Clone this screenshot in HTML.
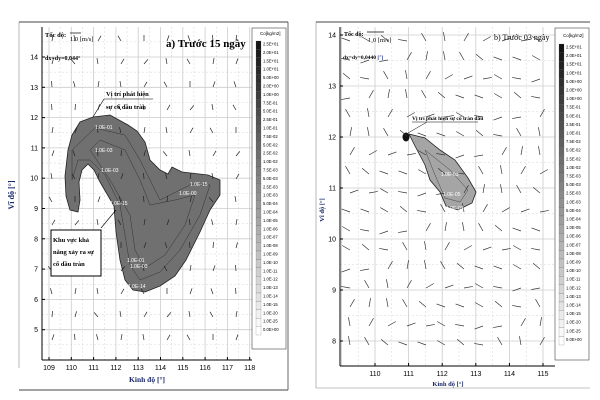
<!DOCTYPE html>
<html><head><meta charset="utf-8"><style>
html,body{margin:0;padding:0;background:#fff;width:600px;height:400px;overflow:hidden}
svg{display:block;font-family:"Liberation Serif",serif}
</style></head><body>
<svg id="s" width="600" height="400" viewBox="0 0 600 400">
<g>
<line x1="19" y1="22" x2="288" y2="22" stroke="#444" stroke-width="1"/>
<line x1="19" y1="22" x2="19" y2="368" stroke="#888" stroke-width="0.6"/>
<line x1="19" y1="390" x2="288" y2="390" stroke="#444" stroke-width="1"/>
<line x1="288" y1="22" x2="288" y2="390" stroke="#444" stroke-width="0.8"/>
<g id="gridA"></g>
<path d="M93,117 L110,115 L128,125 L137,131 L145,142 L150,160 L160,170 L168,174 L172,167 L182,172 L208,175 L220,180 L220,195 L210,210 L200,232 L186,260 L175,276 L160,286 L145,292 L133,290 L125,280 L120,260 L116,232 L114,206 L100,182 L94,170 L88,164 L82,170 L79,182 L80,200 L78,212 L70,210 L66,196 L65,176 L68,150 L72,135 L80,122 Z" fill="#707070" stroke="#222" stroke-width="0.8"/>
<path d="M95,128 L125,135 L140,160 L150,180 L160,200 L190,185 L210,185 L200,215 L180,250 L160,272 L140,280 L130,265 L125,235 L120,205 L105,175 L90,160 L78,160 L72,180 L72,150 Z" fill="none" stroke="#333" stroke-width="0.5"/>
<path d="M100,140 L125,150 L140,180 L150,205 L175,200 L195,195 L185,225 L165,255 L145,268 L135,250 L130,215 L110,180 L90,150 Z" fill="none" stroke="#333" stroke-width="0.5"/>
<g id="windA"></g>
<g font-size="5" font-family="Liberation Sans,sans-serif" fill="#fff">
<text x="95" y="129">1.0E-01</text><text x="95" y="152">1.0E-03</text><text x="101" y="172">1.0E-03</text>
<text x="110" y="205">1.0E-15</text><text x="190" y="186">1.0E-15</text><text x="179" y="195">1.0E-00</text>
<text x="127" y="262">1.0E-01</text><text x="130" y="268">1.0E-03</text><text x="128" y="288">1.0E-14</text>
</g>
<text x="45" y="37" font-size="6.5" font-weight="bold">Tốc độ:</text>
<line x1="70" y1="33" x2="81" y2="33" stroke="#000" stroke-width="0.7"/>
<text x="70" y="41" font-size="6.5">1.0 [m/s]</text>
<text x="45" y="60" font-size="6" font-weight="bold">dx=dy=0,044°</text>
<text x="166" y="47" font-size="11" font-weight="bold">a) Trước 15 ngày</text>
<line x1="104" y1="99" x2="153" y2="99" stroke="#000" stroke-width="0.6"/>
<text x="106" y="96" font-size="6.5" font-weight="bold">Vị trí phát hiện</text>
<text x="106" y="109" font-size="6.5" font-weight="bold">sự cố dầu tràn</text>
<line x1="104" y1="99" x2="93" y2="117" stroke="#000" stroke-width="0.6"/>
<rect x="51" y="230" width="50" height="46" fill="#fff" stroke="#000" stroke-width="1"/>
<text x="53" y="242" font-size="6.5" font-weight="bold">Khu vực khả</text>
<text x="53" y="254" font-size="6.5" font-weight="bold">năng xảy ra sự</text>
<text x="53" y="266" font-size="6.5" font-weight="bold">cố dầu tràn</text>
<line x1="101" y1="228" x2="116" y2="210" stroke="#000" stroke-width="0.6"/>
<line x1="42" y1="27" x2="42" y2="360" stroke="#000" stroke-width="1"/>
<line x1="42" y1="360" x2="252" y2="360" stroke="#000" stroke-width="1"/>
<g id="axA" font-size="7" font-family="Liberation Sans,sans-serif"></g>
<text x="14" y="195" font-size="8" font-weight="bold" fill="#1a2a6a" transform="rotate(-90 14 195)" text-anchor="middle">Vĩ độ [°]</text>
<text x="147" y="382" font-size="7.5" font-weight="bold" fill="#1a2a6a" text-anchor="middle">Kinh độ [°]</text>
<rect x="252" y="28" width="34" height="321" fill="#fff" stroke="#444" stroke-width="0.6"/>
<text x="260" y="35" font-size="4.5" font-family="Liberation Sans,sans-serif">Co[kg/m2]</text>
<g id="legA" font-size="4.2" font-family="Liberation Sans,sans-serif"></g>
</g>
<g>
<line x1="316" y1="22" x2="590" y2="22" stroke="#444" stroke-width="1"/>
<line x1="316" y1="22" x2="316" y2="388" stroke="#888" stroke-width="0.6"/>
<line x1="316" y1="388" x2="590" y2="388" stroke="#888" stroke-width="0.6"/>
<g id="gridB"></g>
<path d="M409,134 L425,138 L440,150 L455,160 L468,178 L476,192 L472,203 L458,210 L446,206 L440,192 L430,180 L425,165 L415,146 Z" fill="#a5a5a5" stroke="#222" stroke-width="0.8"/>
<path d="M425,150 L450,170 L468,190 L460,202 L445,198 L435,175 Z" fill="none" stroke="#444" stroke-width="0.5"/>
<ellipse cx="406" cy="137" rx="3.5" ry="4.5" fill="#111"/>
<g id="windB"></g>
<g font-size="5" font-family="Liberation Sans,sans-serif" fill="#fff"><text x="441" y="176">1.0E-03</text><text x="443" y="196">1.0E-05</text><text x="446" y="210">1.0E-03</text></g>
<text x="344" y="36" font-size="6" font-weight="bold">Tốc độ:</text>
<line x1="367" y1="32" x2="384" y2="32" stroke="#000" stroke-width="0.7"/>
<text x="368" y="42" font-size="6.5">1,0 [m/s]</text>
<text x="343" y="59" font-size="5.5" font-weight="bold">dx=dy=0,0440 <tspan fill="#2a3a9a">[°]</tspan></text>
<text x="494" y="40" font-size="8">b) Trước 03 ngày</text>
<text x="412" y="120" font-size="5.5" font-weight="bold">Vị trí phát hiện sự cố tràn dầu</text>
<line x1="412" y1="122" x2="478" y2="122" stroke="#000" stroke-width="0.5"/>
<line x1="427" y1="122" x2="408" y2="133" stroke="#000" stroke-width="0.5"/>
<line x1="340" y1="27" x2="340" y2="366" stroke="#000" stroke-width="1"/>
<line x1="340" y1="366" x2="555" y2="366" stroke="#000" stroke-width="1"/>
<g id="axB" font-size="7" font-family="Liberation Sans,sans-serif"></g>
<text x="324" y="210" font-size="6.5" font-weight="bold" fill="#1a2a6a" transform="rotate(-90 324 210)" text-anchor="middle">Vĩ độ [°]</text>
<text x="448" y="386" font-size="6.5" font-weight="bold" fill="#1a2a6a" text-anchor="middle">Kinh độ [°]</text>
<rect x="555" y="28" width="34" height="332" fill="#fff" stroke="#444" stroke-width="0.6"/>
<text x="563" y="37" font-size="4.5" font-family="Liberation Sans,sans-serif">Co[kg/m2]</text>
<g id="legB" font-size="4.2" font-family="Liberation Sans,sans-serif"></g>
</g>
</svg>
<script>
const legendLabels=["2.5E+01","2.0E+01","1.5E+01","1.0E+01","5.0E+00","2.0E+00","1.0E+00","7.5E-01","5.0E-01","2.5E-01","1.0E-01","7.5E-02","5.0E-02","2.5E-02","1.0E-02","7.5E-03","5.0E-03","2.5E-03","1.0E-03","5.0E-04","1.0E-04","1.0E-05","1.0E-06","1.0E-07","1.0E-08","1.0E-09","1.0E-10","1.0E-11","1.0E-12","1.0E-13","1.0E-14","1.0E-15","1.0E-20","1.0E-25","0.0E+00"];
const xTicksA=[109,110,111,112,113,114,115,116,117,118];
const yTicksA=[5,6,7,8,9,10,11,12,13,14];
const xTicksB=[110,111,112,113,114,115];
const yTicksB=[8,9,10,11,12,13,14];
const windAnglesA=[80,100,60,120,90,70,110,95,85,75,130,100,60,50,100,120,80,70,95,105];
const windAnglesB=[160,150,140,170,120,100,60,30,20,10,150,170,200,190,60,80,100,120,140,160];
const NS="http://www.w3.org/2000/svg";
function el(p,t,a){const e=document.createElementNS(NS,t);for(const k in a)e.setAttribute(k,a[k]);p.appendChild(e);return e;}
function panel(cfg){
 const sx=v=>cfg.x0+(v-cfg.xv0)*cfg.kx, sy=v=>cfg.y0-(v-cfg.yv0)*cfg.ky;
 const g=document.getElementById(cfg.grid), ax=document.getElementById(cfg.ax);
 for(let v=cfg.xr[0];v<=cfg.xr[1]+1e-9;v+=0.5){const x=sx(v);if(x<cfg.L||x>cfg.R)continue;
  el(g,'line',{x1:x,y1:cfg.T,x2:x,y2:cfg.B,stroke:cfg.gc,'stroke-width':v%1?0.4:0.8,'stroke-dasharray':v%1?'2,2':''});}
 for(let v=cfg.yr[0];v<=cfg.yr[1]+1e-9;v+=0.5){const y=sy(v);if(y<cfg.T||y>cfg.B)continue;
  el(g,'line',{x1:cfg.L,y1:y,x2:cfg.R,y2:y,stroke:cfg.gc,'stroke-width':v%1?0.4:0.8,'stroke-dasharray':v%1?'2,2':''});}
 cfg.xt.forEach(v=>{const t=el(ax,'text',{x:sx(v),y:cfg.B+10,'text-anchor':'middle'});t.textContent=v;
  
  
  el(ax,'line',{x1:sx(v),y1:cfg.B,x2:sx(v),y2:cfg.B-3,stroke:'#000'});});
 cfg.yt.forEach(v=>{const t=el(ax,'text',{x:cfg.L-4,y:sy(v)+2.5,'text-anchor':'end'});t.textContent=v;
  
  
  el(ax,'line',{x1:cfg.L,y1:sy(v),x2:cfg.L+3,y2:sy(v),stroke:'#000'});});
 const w=document.getElementById(cfg.wind);let i=0;
 for(let y=cfg.T+14;y<cfg.B-6;y+=cfg.step)for(let x=cfg.L+10;x<cfg.R-4;x+=cfg.step){
  const a=cfg.ang[i++%cfg.ang.length]*Math.PI/180,len=cfg.len;
  const x2=x+Math.cos(a)*len,y2=y-Math.sin(a)*len;
  const l=el(w,'line',{x1:x,y1:y,x2:x2,y2:y2,stroke:cfg.wc,'stroke-width':0.7});
  
  }
 const lg=document.getElementById(cfg.leg);
 legendLabels.forEach((s,j)=>{const y=cfg.ly+j*cfg.ls;const c=Math.round(20+j*235/(legendLabels.length-1));
  el(lg,'rect',{x:cfg.lx,y:y-3,width:5,height:cfg.ls,fill:`rgb(${c},${c},${c})`,stroke:'#555','stroke-width':0.2});
  const t=el(lg,'text',{x:cfg.lx+7,y:y+1.5});t.textContent=s;
  
  });
}
panel({x0:49,xv0:109,kx:22.3,y0:57,yv0:14,ky:30.3,L:42,R:252,T:27,B:360,xr:[108.5,118.5],yr:[4,15],xt:xTicksA,yt:yTicksA,grid:'gridA',ax:'axA',wind:'windA',leg:'legA',ang:windAnglesA,step:23,len:6,wc:'#222',gc:'#ccc',lx:256,ly:44,ls:8.4});
panel({x0:375,xv0:110,kx:33.6,y0:35,yv0:14,ky:51,L:340,R:555,T:27,B:366,xr:[109,116],yr:[7,14.5],xt:xTicksB,yt:yTicksB,grid:'gridB',ax:'axB',wind:'windB',leg:'legB',ang:windAnglesB,step:19,len:9,wc:'#333',gc:'#ccc',lx:559,ly:47,ls:8.6});
</script>
</body></html>
